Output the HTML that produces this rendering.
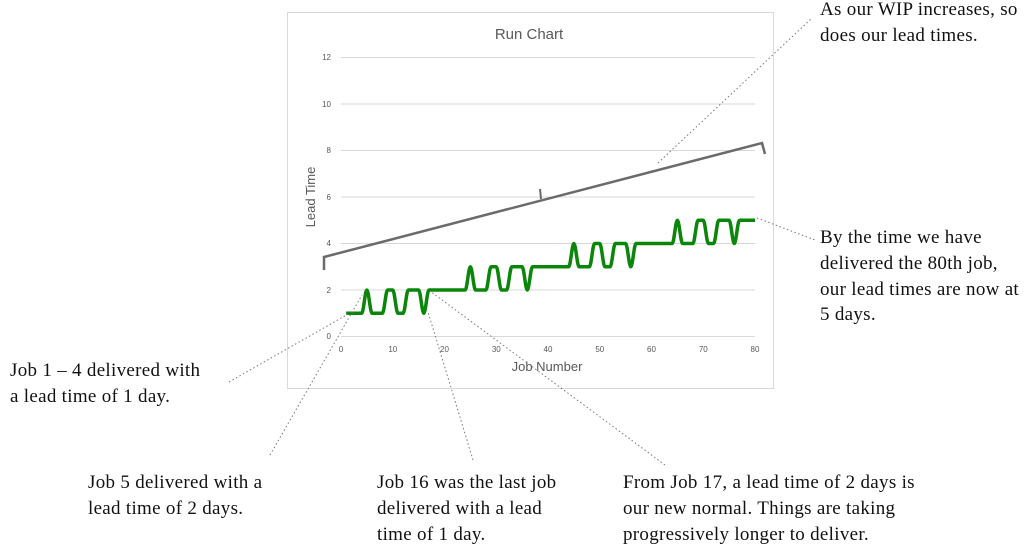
<!DOCTYPE html>
<html><head><meta charset="utf-8"><style>
body{margin:0;width:1024px;height:551px;background:#fff;position:relative;overflow:hidden}
.t{position:absolute;font-family:"Liberation Serif",serif;font-size:19px;letter-spacing:0.3px;line-height:25.8px;color:#111;white-space:nowrap}
</style></head><body>
<svg width="1024" height="551" style="position:absolute;left:0;top:0">
<rect x="287.5" y="12.5" width="486" height="376" fill="#fff" stroke="#d9d9d9"/>
<text x="529" y="39" text-anchor="middle" font-family="Liberation Sans,sans-serif" font-size="15" fill="#595959">Run Chart</text>
<g stroke="#d9d9d9" stroke-width="1">
<line x1="341" x2="755" y1="57.5" y2="57.5"/><line x1="341" x2="755" y1="104" y2="104"/>
<line x1="341" x2="755" y1="150.5" y2="150.5"/><line x1="341" x2="755" y1="197" y2="197"/>
<line x1="341" x2="755" y1="243.5" y2="243.5"/><line x1="341" x2="755" y1="290" y2="290"/>
<line x1="341" x2="755" y1="336.5" y2="336.5"/>
</g>
<g font-family="Liberation Sans,sans-serif" font-size="8" fill="#595959" text-anchor="end">
<text x="331" y="60">12</text><text x="331" y="107">10</text><text x="331" y="153">8</text>
<text x="331" y="200">6</text><text x="331" y="246">4</text><text x="331" y="293">2</text><text x="331" y="339">0</text>
</g>
<g font-family="Liberation Sans,sans-serif" font-size="8" fill="#595959" text-anchor="middle">
<text x="341" y="352">0</text><text x="392.8" y="352">10</text><text x="444.5" y="352">20</text>
<text x="496.3" y="352">30</text><text x="548" y="352">40</text><text x="599.8" y="352">50</text>
<text x="651.5" y="352">60</text><text x="703.3" y="352">70</text><text x="755" y="352">80</text>
</g>
<text x="547" y="371" text-anchor="middle" font-family="Liberation Sans,sans-serif" font-size="13" fill="#595959">Job Number</text>
<text transform="translate(315,197) rotate(-90)" text-anchor="middle" font-family="Liberation Sans,sans-serif" font-size="13" fill="#595959">Lead Time</text>
<path d="M324,270 L324,257 L762,143 L765,154" fill="none" stroke="#6b6b6b" stroke-width="2.5"/>
<path d="M540,189 L541,199" fill="none" stroke="#6b6b6b" stroke-width="2"/>
<path id="g" fill="none" stroke="#0a860a" stroke-width="3.5" stroke-linejoin="round"/>
<g stroke="#777" stroke-width="1" stroke-dasharray="1.5,2.5" fill="none">
<line x1="658" y1="163" x2="812" y2="18"/>
<line x1="757" y1="218" x2="815" y2="240"/>
<line x1="229" y1="382" x2="350" y2="313"/>
<line x1="270" y1="455" x2="362" y2="295"/>
<line x1="473" y1="460" x2="428" y2="312"/>
<line x1="665" y1="465" x2="430" y2="291"/>
</g>
</svg>
<div class="t" style="left:820px;top:-3px">As our WIP increases, so<br>does our lead times.</div>
<div class="t" style="left:820px;top:225px">By the time we have<br>delivered the 80th job,<br>our lead times are now at<br>5 days.</div>
<div class="t" style="left:10px;top:358px">Job 1 – 4 delivered with<br>a lead time of 1 day.</div>
<div class="t" style="left:88px;top:470px">Job 5 delivered with a<br>lead time of 2 days.</div>
<div class="t" style="left:377px;top:470px">Job 16 was the last job<br>delivered with a lead<br>time of 1 day.</div>
<div class="t" style="left:623px;top:470px">From Job 17, a lead time of 2 days is<br>our new normal. Things are taking<br>progressively longer to deliver.</div>
<script>
var v=[];
for(var b=0;b<4;b++){var L=b+1;
 var pat=[L,L,L,L,L+1,L,L,L,L+1,L+1,L,L,L+1,L+1,L+1,L,L+1,L+1,L+1,L+1];
 for(var i=0;i<20;i++)v.push(pat[i]);}
var pts=v.map(function(y,i){return [341+(i+1)*5.175,336.5-y*23.25];});
var d="M"+pts[0][0]+","+pts[0][1];
for(var i=0;i<pts.length-1;i++){
 var p1=pts[i],p2=pts[i+1],dx=(p2[0]-p1[0])*0.35;
 d+=" C"+(p1[0]+dx)+","+p1[1]+" "+(p2[0]-dx)+","+p2[1]+" "+p2;}
document.getElementById("g").setAttribute("d",d);
</script>
</body></html>
